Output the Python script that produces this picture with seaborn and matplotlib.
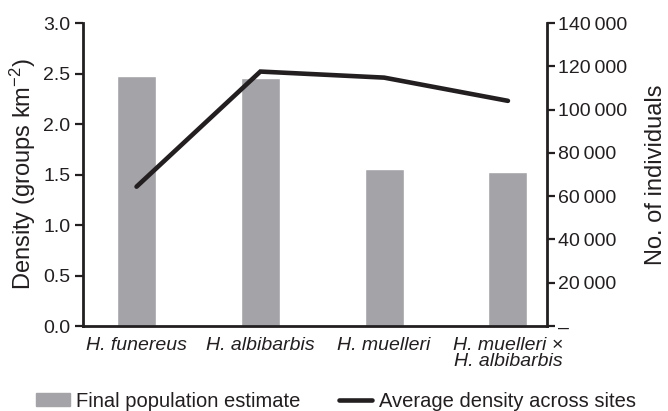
import numpy as np
import pandas as pd
import seaborn as sns
import matplotlib.pyplot as plt
from matplotlib.patches import Patch
from matplotlib.lines import Line2D
from matplotlib.ticker import FuncFormatter

# Values
species = ['H. funereus', 'H. albibarbis', 'H. muelleri', 'H. muelleri \u00d7\nH. albibarbis']
population = [115600, 114600, 72400, 71200]   # final population estimate (right axis)
density = [1.38, 2.52, 2.46, 2.23]            # average density across sites (left axis)

sns.set_style('white')
plt.rcParams['font.family'] = ['Liberation Sans', 'DejaVu Sans']
plt.rcParams['mathtext.fontset'] = 'custom'
plt.rcParams['mathtext.rm'] = 'Liberation Sans'
plt.rcParams['mathtext.it'] = 'Liberation Sans:italic'

ink = '#231f20'
bar_col = '#a4a3a8'

df = pd.DataFrame({'species': species, 'population': population, 'density': density})

fig = plt.figure(figsize=(6.68, 4.11), dpi=100)
ax1 = fig.add_axes([0.1238, 0.2068, 0.6946, 0.737])
ax2 = ax1.twinx()

# bars on the right axis
sns.barplot(data=df, x='species', y='population', color=bar_col, width=0.315,
            saturation=1, ax=ax2)

# line on the left axis, kept in front of the bars
ax1.set_zorder(ax2.get_zorder() + 1)
ax1.patch.set_visible(False)
sns.lineplot(x=np.arange(len(species)), y=df['density'], color=ink, lw=3.3,
             ax=ax1, solid_capstyle='round', solid_joinstyle='miter')

ax1.set_xlim(-0.435, 3.313)
ax1.set_ylim(0, 3.0)
ax1.set_yticks(np.arange(0, 3.01, 0.5))
ax1.yaxis.set_major_formatter(FuncFormatter(lambda v, p: f'{v:.1f}'))
ax2.set_ylim(0, 140000)
ax2.set_yticks(np.arange(0, 140001, 20000))
ax2.yaxis.set_major_formatter(
    FuncFormatter(lambda v, p: '\u2013' if v == 0 else f'{int(v):,}'.replace(',', '\u2009')))

ax1.set_xticks(np.arange(len(species)))
ax1.set_xticklabels(species, fontstyle='italic', fontsize=14, linespacing=0.95, color=ink)
ax2.set_xlabel('')
ax1.set_xlabel('')
ax1.set_ylabel('Density (groups km$^{\u2212\\mathrm{2}}$)', fontsize=17, labelpad=4, color=ink)
ax2.set_ylabel('No. of individuals', fontsize=17, labelpad=13, color=ink)

for ax in (ax1, ax2):
    for s in ax.spines.values():
        s.set_visible(False)
    ax.tick_params(axis='y', labelsize=14, length=6, width=1.6, color=ink,
                   labelcolor=ink, direction='out')
ax1.tick_params(axis='y', left=True, pad=3)
ax2.tick_params(axis='y', right=True, pad=2)
ax1.spines['left'].set_visible(True)
ax1.spines['bottom'].set_visible(True)
ax2.spines['right'].set_visible(True)
for s in (ax1.spines['left'], ax1.spines['bottom'], ax2.spines['right']):
    s.set_linewidth(2)
    s.set_color(ink)
ax1.tick_params(axis='x', length=0, pad=8)

handles = [Patch(color=bar_col), Line2D([0], [0], color=ink, lw=3.3)]
fig.legend(handles, ['Final population estimate', 'Average density across sites'],
           loc='center', bbox_to_anchor=(0.503, 0.024), ncol=2, frameon=False,
           fontsize=14.5, handlelength=1.65, handleheight=0.55, columnspacing=1.9,
           handletextpad=0.33, borderpad=0, labelcolor=ink)

fig.savefig('out.png', dpi=100)
